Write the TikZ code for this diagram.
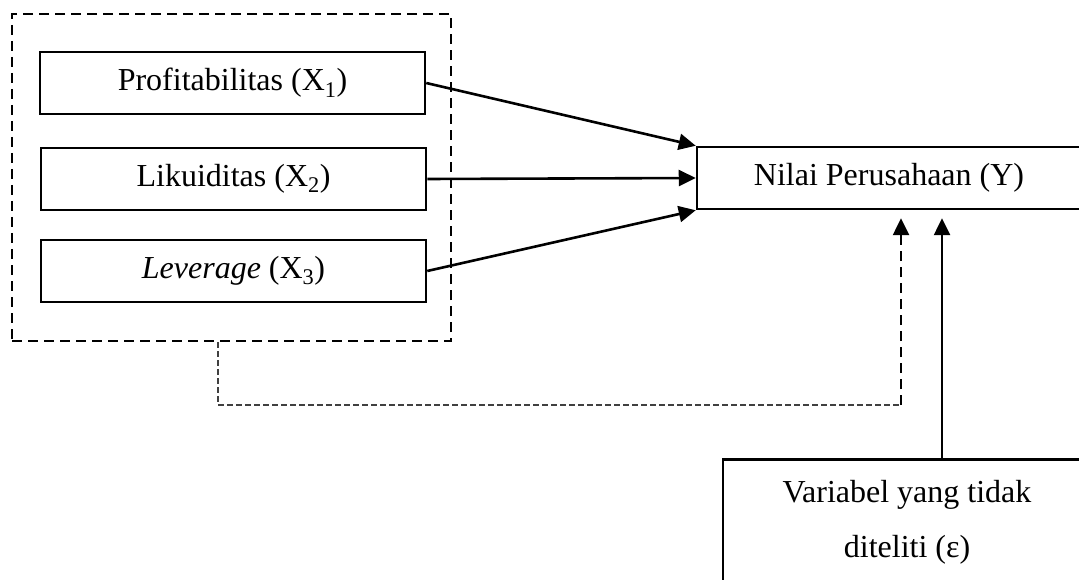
\documentclass[tikz,border=0pt]{standalone}
\usepackage{fontspec}
\setmainfont{Liberation Serif}
\usepackage{tikz}
\usetikzlibrary{arrows.meta}
\tikzset{
    var-box/.style = {draw=black, fill=white, line width=2.5pt, rectangle, minimum width=385pt, minimum height=62pt, inner sep=0pt},
    group-box/.style = {draw=black, line width=2.5pt, dash pattern=on 10pt off 6pt, rectangle, minimum width=439pt, minimum height=327pt, inner sep=0pt},
    link-arrow/.style = {line width=2.6pt, -{Triangle[length=17pt, width=16pt]}},
}

\begin{document}
\begin{tikzpicture}[x=1pt, y=-1pt, font=\fontsize{32}{55}\selectfont]
\clip (0,0) rectangle (1079,580);
\node [group-box] (group) at (231.5,177.5) {};
\node [var-box] (profit) at (232.5,83) {Profitabilitas (X\textsubscript{1})};
\node [var-box] (likuid) at (233.5,179) {Likuiditas (X\textsubscript{2})};
\node [var-box] (lever) at (233.5,271) {\textit{Leverage} (X\textsubscript{3})};
\node [var-box, minimum width=384pt] (nilai) at (889,178) {Nilai Perusahaan (Y)};
\node [var-box, minimum width=368pt, minimum height=126pt, anchor=north, align=center] (eps) at (907,458) {Variabel yang tidak\\diteliti (ε)};
\coordinate (bend) at (901,405);
\coordinate (eps-top) at ([xshift=35pt]eps.north);
\draw [link-arrow] (profit.east) -- (nilai.north west);
\draw [link-arrow] (likuid.east) -- (nilai.west);
\draw [link-arrow] (lever.east) -- (nilai.south west);
\draw [line width=1.5pt, dash pattern=on 6pt off 3pt, black!75] ([xshift=-13.5pt]group.south) |- (bend);
\draw [link-arrow, dash pattern=on 10pt off 6pt] (bend) -- ([yshift=-8pt]nilai.south -| bend);
\draw [link-arrow] (eps-top) -- ([yshift=-8pt]nilai.south -| eps-top);
\end{tikzpicture}
\end{document}
